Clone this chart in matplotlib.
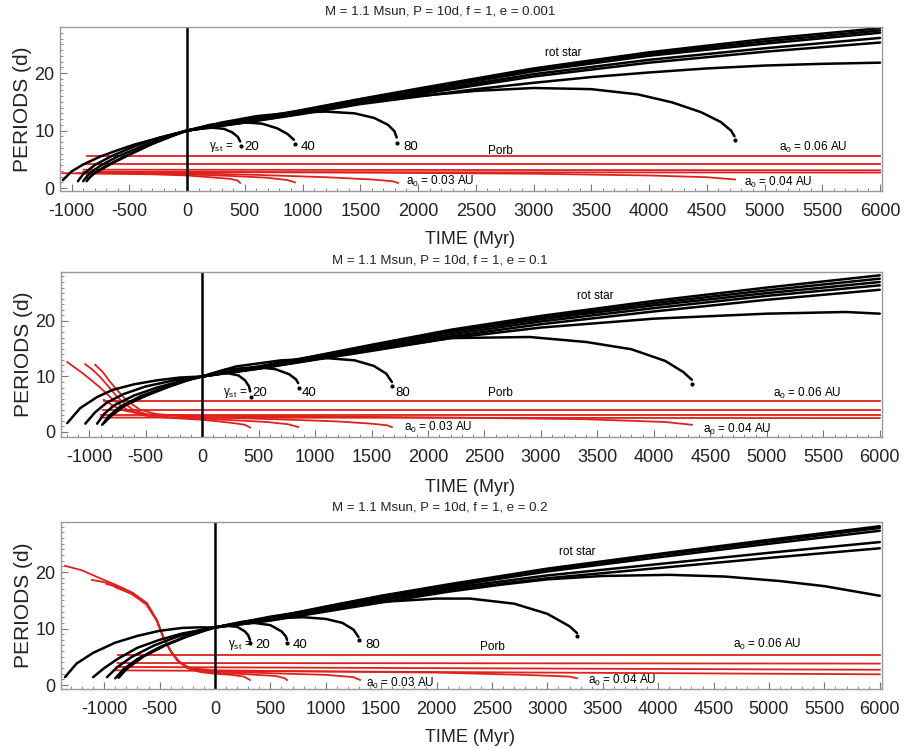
import numpy as np
import matplotlib
matplotlib.use("Agg")
import matplotlib.pyplot as plt

plt.rcParams["font.family"] = ["Liberation Sans", "DejaVu Sans"]
plt.rcParams["mathtext.default"] = "regular"
plt.rcParams["axes.unicode_minus"] = False

RED = "#e0201c"

TITLES = [
    "M = 1.1 Msun, P = 10d, f = 1, e = 0.001",
    "M = 1.1 Msun, P = 10d, f = 1, e = 0.1",
    "M = 1.1 Msun, P = 10d, f = 1, e = 0.2",
]
XTICKS = [-1000, -500, 0, 500, 1000, 1500, 2000, 2500, 3000, 3500, 4000, 4500, 5000, 5500, 6000]
YTICKS = [0, 10, 20]
GAMMA_LABELS = ["20", "40", "80"]

# ---------------- e = 0.001 ----------------
E001_PRE = [
    [(-1075, 1.4), (-1000, 2.9), (-900, 4.1), (-750, 5.5), (-600, 6.6), (-450, 7.6), (-250, 8.7), (0, 10.0)],
    [(-945, 1.2), (-900, 2.4), (-800, 4.0), (-650, 5.6), (-450, 7.3), (-250, 8.7), (0, 10.0)],
    [(-900, 1.2), (-850, 2.5), (-750, 3.9), (-600, 5.5), (-400, 7.2), (-200, 8.7), (0, 10.0)],
    [(-870, 1.2), (-820, 2.4), (-700, 3.9), (-550, 5.4), (-350, 7.3), (-150, 8.9), (0, 10.0)],
    [(-860, 1.6), (-800, 2.6), (-650, 4.3), (-500, 5.8), (-300, 7.7), (-100, 9.3), (0, 10.0)],
]
E001_LONG = [
    [(0, 10), (250, 10.9), (500, 11.8), (1000, 13.6), (1500, 15.5), (2000, 17.3), (3000, 20.8), (4000, 23.6), (5000, 25.9), (6000, 27.8)],
    [(0, 10), (250, 10.9), (500, 11.7), (1000, 13.5), (1500, 15.4), (2000, 17.1), (3000, 20.6), (4000, 23.3), (5000, 25.5), (6000, 27.4)],
    [(0, 10), (250, 10.8), (500, 11.6), (1000, 13.4), (1500, 15.2), (2000, 16.9), (3000, 20.3), (4000, 23.0), (5000, 25.1), (6000, 27.0)],
    [(0, 10), (250, 10.8), (500, 11.5), (1000, 13.2), (1500, 14.9), (2000, 16.6), (3000, 19.8), (4000, 22.3), (5000, 24.3), (6000, 26.1)],
    [(0, 10), (250, 10.7), (500, 11.4), (1000, 13.0), (1500, 14.7), (2000, 16.3), (3000, 19.4), (4000, 21.8), (5000, 23.7), (6000, 25.3)],
    [(0, 10), (250, 10.7), (500, 11.4), (1000, 12.9), (1500, 14.6), (2000, 15.9), (2500, 17.2), (3000, 18.3), (3500, 19.3),
     (4000, 20.1), (4500, 20.8), (5000, 21.3), (5500, 21.6), (6000, 21.8)],
]
E001_ENGULF = [
    [(0, 10), (100, 10.3), (220, 10.5), (320, 10.3), (390, 9.7), (440, 8.9), (460, 8.1)],
    [(0, 10), (200, 11.0), (450, 11.5), (650, 11.2), (780, 10.4), (870, 9.4), (925, 8.4)],
    [(0, 10), (300, 11.4), (600, 12.5), (900, 13.1), (1200, 13.3), (1450, 13.0), (1620, 12.2), (1740, 11.0), (1795, 9.9), (1815, 8.8)],
    [(0, 10), (500, 11.6), (1000, 13.3), (1500, 14.8), (2000, 16.0), (2500, 16.9), (3000, 17.4), (3500, 17.2), (3900, 16.3),
     (4200, 14.9), (4450, 13.2), (4620, 11.5), (4710, 10.0), (4740, 9.0)],
]
E001_DOTS = [(465, 7.4), (935, 7.6), (1820, 7.8), (4745, 8.4)]
E001_FLAT = [[(-865, 5.5), (6000, 5.5)], [(-880, 4.2), (6000, 4.2)], [(-895, 3.2), (6000, 3.1)], [(-900, 2.8), (6000, 2.7)]]
E001_DECAY = [
    [(-1080, 2.6), (-700, 2.5), (-300, 2.4), (0, 2.2), (200, 1.9), (380, 1.6), (440, 1.3), (460, 0.9)],
    [(-950, 2.6), (-500, 2.6), (0, 2.4), (400, 2.1), (700, 1.8), (870, 1.4), (935, 1.0)],
    [(-900, 2.7), (0, 2.6), (600, 2.3), (1200, 1.9), (1600, 1.5), (1780, 1.2), (1827, 0.9)],
    [(-870, 2.8), (0, 2.8), (1500, 2.7), (3000, 2.5), (4000, 2.2), (4500, 1.9), (4745, 1.5)],
]

# ---------------- e = 0.1 ----------------
E01_PRE = [
    [(-1195, 1.6), (-1080, 4.3), (-930, 6.3), (-790, 7.6), (-600, 8.6), (-400, 9.3), (-200, 9.8), (0, 10.0)],
    [(-1035, 1.5), (-950, 3.5), (-850, 5.2), (-700, 6.8), (-500, 8.2), (-250, 9.3), (0, 10.0)],
    [(-930, 1.5), (-870, 3.2), (-780, 4.8), (-600, 6.6), (-400, 8.0), (-200, 9.1), (0, 10.0)],
    [(-885, 1.3), (-830, 2.8), (-730, 4.5), (-550, 6.4), (-350, 7.9), (-150, 9.2), (0, 10.0)],
    [(-870, 1.6), (-800, 3.0), (-680, 4.8), (-500, 6.5), (-300, 8.1), (-100, 9.5), (0, 10.0)],
]
E01_LONG = [
    [(0, 10), (250, 10.9), (500, 11.8), (1000, 13.7), (1500, 15.7), (2200, 18.4), (3000, 20.9), (4000, 23.6), (5000, 26.0), (6000, 28.2)],
    [(0, 10), (250, 10.9), (500, 11.7), (1000, 13.6), (1500, 15.5), (2200, 18.2), (3000, 20.6), (4000, 23.2), (5000, 25.5), (6000, 27.6)],
    [(0, 10), (250, 10.8), (500, 11.6), (1000, 13.5), (1500, 15.3), (2200, 18.0), (3000, 20.3), (4000, 22.8), (5000, 25.0), (6000, 27.0)],
    [(0, 10), (250, 10.8), (500, 11.5), (1000, 13.3), (1500, 15.0), (2200, 17.6), (3000, 19.9), (4000, 22.3), (5000, 24.5), (6000, 26.4)],
    [(0, 10), (250, 10.7), (500, 11.4), (1000, 13.1), (1500, 14.8), (2200, 17.2), (3000, 19.4), (4000, 21.7), (5000, 23.8), (6000, 25.6)],
    [(0, 10), (250, 10.7), (500, 11.4), (1000, 13.0), (1500, 14.6), (2200, 16.9), (3000, 18.8), (4000, 20.4), (5000, 21.3),
     (5700, 21.6), (6000, 21.3)],
]
E01_ENGULF = [
    [(0, 10), (100, 10.4), (220, 10.6), (320, 10.2), (380, 9.3), (415, 8.2), (425, 7.3)],
    [(0, 10), (200, 11.2), (480, 11.7), (650, 11.3), (770, 10.4), (830, 9.5), (850, 8.8)],
    [(0, 10), (300, 11.8), (700, 12.9), (1100, 13.3), (1350, 12.9), (1520, 11.9), (1630, 10.5), (1680, 9.0)],
    [(0, 10), (500, 11.6), (1000, 13.3), (1500, 14.8), (2200, 16.9), (2900, 17.1), (3400, 16.2), (3800, 14.9),
     (4100, 12.8), (4260, 10.8), (4336, 9.4)],
]
E01_DOTS = [(430, 6.3), (855, 7.9), (1685, 8.2), (4340, 8.7)]
E01_FLAT = [[(-870, 5.5), (6000, 5.5)], [(-880, 4.0), (6000, 4.0)], [(-895, 3.1), (6000, 3.1)], [(-900, 2.6), (6000, 2.5)]]
E01_DECAY = [
    [(-1195, 12.6), (-1120, 11.5), (-1053, 10.5), (-980, 9.3), (-903, 8.0), (-840, 6.8), (-788, 5.8), (-720, 4.8),
     (-664, 4.0), (-560, 3.2), (-460, 2.8), (-250, 2.5), (0, 2.2), (150, 1.9), (280, 1.6), (380, 1.3), (425, 0.8)],
    [(-1035, 12.2), (-970, 11.2), (-903, 9.9), (-830, 8.2), (-752, 6.3), (-680, 5.0), (-610, 4.0), (-480, 3.1),
     (-310, 2.7), (0, 2.4), (300, 2.1), (575, 1.8), (760, 1.4), (850, 0.9)],
    [(-947, 12.1), (-880, 10.8), (-814, 9.0), (-750, 7.5), (-699, 6.3), (-620, 5.0), (-549, 4.0), (-400, 3.2),
     (-168, 2.8), (300, 2.5), (800, 2.2), (1200, 1.9), (1500, 1.5), (1640, 1.2), (1680, 0.9)],
    [(-870, 5.8), (-780, 4.6), (-680, 3.8), (-500, 3.2), (0, 2.9), (1000, 2.8), (2200, 2.6), (3400, 2.3), (4100, 1.8), (4336, 1.3)],
]

# ---------------- e = 0.2 ----------------
E02_PRE = [
    [(-1354, 1.4), (-1250, 3.8), (-1100, 5.7), (-900, 7.5), (-700, 8.7), (-500, 9.6), (-300, 10.1), (-150, 10.2), (0, 10.2)],
    [(-1100, 1.4), (-1000, 3.0), (-880, 4.6), (-700, 6.6), (-500, 8.0), (-300, 9.1), (0, 10.2)],
    [(-975, 1.4), (-880, 3.2), (-750, 5.0), (-550, 7.0), (-350, 8.5), (-150, 9.6), (0, 10.2)],
    [(-900, 1.2), (-820, 2.9), (-700, 4.6), (-500, 6.7), (-300, 8.3), (-100, 9.6), (0, 10.2)],
    [(-870, 1.3), (-800, 2.8), (-650, 5.0), (-450, 7.0), (-250, 8.6), (-100, 9.6), (0, 10.2)],
]
E02_LONG = [
    [(0, 10.2), (250, 11.0), (500, 11.9), (1000, 13.9), (1500, 15.8), (2100, 17.8), (3000, 20.6), (4000, 23.2), (5000, 25.7), (6000, 28.1)],
    [(0, 10.2), (250, 11.0), (500, 11.8), (1000, 13.8), (1500, 15.7), (2100, 17.6), (3000, 20.4), (4000, 23.0), (5000, 25.4), (6000, 27.8)],
    [(0, 10.2), (250, 10.9), (500, 11.7), (1000, 13.7), (1500, 15.5), (2100, 17.4), (3000, 20.1), (4000, 22.6), (5000, 25.0), (6000, 27.3)],
    [(0, 10.2), (250, 10.9), (500, 11.6), (1000, 13.5), (1500, 15.3), (2100, 17.1), (3000, 19.4), (4000, 21.4), (5000, 23.4), (6000, 25.3)],
    [(0, 10.2), (250, 10.8), (500, 11.5), (1000, 13.3), (1500, 15.0), (2100, 16.8), (3000, 18.9), (4000, 20.7), (5000, 22.5), (6000, 24.2)],
    [(0, 10.2), (250, 10.8), (500, 11.4), (1000, 13.0), (1500, 14.6), (2100, 16.5), (2600, 17.8), (3000, 18.7), (3500, 19.3),
     (4100, 19.5), (4600, 19.2), (5100, 18.4), (5500, 17.5), (6000, 15.8)],
]
E02_ENGULF = [
    [(0, 10.2), (100, 10.5), (200, 10.3), (270, 9.5), (300, 8.8), (316, 8.0)],
    [(0, 10.2), (150, 10.7), (350, 11.0), (500, 10.6), (600, 9.5), (640, 8.6), (650, 8.0)],
    [(0, 10.2), (250, 11.2), (500, 11.8), (800, 12.0), (1000, 11.7), (1150, 11.0), (1250, 9.8), (1295, 8.5)],
    [(0, 10.2), (500, 12.1), (1000, 13.6), (1500, 14.7), (2000, 15.3), (2300, 15.3), (2700, 14.4), (3000, 12.6), (3200, 10.4), (3267, 9.2)],
]
E02_DOTS = [(318, 7.4), (652, 7.5), (1298, 7.9), (3270, 8.6)]
E02_FLAT = [[(-875, 5.3), (6000, 5.3)], [(-880, 3.9), (6000, 3.8)], [(-890, 3.2), (6000, 2.7)], [(-900, 2.6), (6000, 1.9)]]
E02_DECAY = [
    [(-1354, 21.1), (-1200, 20.3), (-1038, 18.9), (-880, 17.6), (-740, 16.3), (-614, 14.5), (-523, 11.5), (-469, 8.5),
     (-406, 6.2), (-343, 4.4), (-253, 3.0), (-135, 2.3), (0, 2.0), (150, 1.8), (260, 1.5), (316, 0.9)],
    [(-1110, 18.6), (-1000, 18.2), (-880, 17.4), (-740, 16.1), (-620, 14.3), (-530, 11.6), (-470, 8.6), (-400, 6.0),
     (-330, 4.2), (-240, 3.0), (-100, 2.4), (0, 2.2), (300, 1.9), (550, 1.6), (630, 1.2), (650, 0.9)],
    [(-980, 17.9), (-860, 17.2), (-740, 16.0), (-615, 14.2), (-525, 11.4), (-465, 8.4), (-395, 5.8), (-320, 4.0),
     (-220, 2.9), (0, 2.4), (500, 2.1), (1000, 1.8), (1250, 1.4), (1309, 0.9)],
    [(-900, 17.3), (-760, 16.2), (-620, 14.4), (-528, 11.5), (-466, 8.5), (-398, 6.0), (-325, 4.2), (-230, 3.0),
     (0, 2.6), (1000, 2.4), (2000, 2.2), (2800, 1.8), (3200, 1.5), (3267, 1.2)],
]

PANELS = [
    dict(pre=E001_PRE, long=E001_LONG, engulf=E001_ENGULF, dots=E001_DOTS, flat=E001_FLAT, decay=E001_DECAY),
    dict(pre=E01_PRE, long=E01_LONG, engulf=E01_ENGULF, dots=E01_DOTS, flat=E01_FLAT, decay=E01_DECAY),
    dict(pre=E02_PRE, long=E02_LONG, engulf=E02_ENGULF, dots=E02_DOTS, flat=E02_FLAT, decay=E02_DECAY),
]

# layout in pixels: (left, right, top, bottom), x limits, y limits
W, H = 906, 748
BOXES = [(60, 882, 27, 191), (61, 882, 272, 437), (61, 882, 522, 689)]
XLIMS = [(-1100, 6017), (-1250, 6020), (-1390, 6020)]
YLIMS = [(-0.5, 28.0), (-0.9, 28.8), (-0.7, 28.85)]
TITLE_Y = [12, 260, 507]
XLABEL_Y = [239, 487, 737]

# annotation positions (data coords)
LABELS = [
    dict(rot=(3255, 23.5), porb=(2710, 6.4), a06=(5420, 7.1), a04=(5117, 0.9), a03=(2190, 1.2),
         gam=(400, 7.2), nums=[500, 985, 1870], ny=7.2),
    dict(rot=(3478, 24.5), porb=(2637, 7.0), a06=(5354, 7.0), a04=(4735, 0.4), a03=(2090, 0.9),
         gam=(398, 7.0), nums=[442, 885, 1708], ny=7.0),
    dict(rot=(3267, 23.5), porb=(2500, 6.7), a06=(4982, 7.1), a04=(3673, 0.9), a03=(1670, 0.35),
         gam=(334, 7.1), nums=[361, 704, 1354], ny=7.1),
]

fig = plt.figure(figsize=(W / 100, H / 100), dpi=100)

for i, d in enumerate(PANELS):
    l, r, t, b = BOXES[i]
    ax = fig.add_axes([l / W, 1 - b / H, (r - l) / W, (b - t) / H])

    for c in d["flat"]:
        a = np.array(c)
        ax.plot(a[:, 0], a[:, 1], color=RED, lw=1.3)
    for c in d["decay"]:
        a = np.array(c)
        ax.plot(a[:, 0], a[:, 1], color=RED, lw=1.3)
    for group in ("pre", "long", "engulf"):
        for c in d[group]:
            a = np.array(c)
            ax.plot(a[:, 0], a[:, 1], color="black", lw=1.8, solid_capstyle="round")
    dots = np.array(d["dots"])
    ax.plot(dots[:, 0], dots[:, 1], "o", color="black", ms=2)

    ax.axvline(0, color="black", lw=1.8)

    ax.set_xticks(XTICKS)
    ax.set_xticks(np.arange(-1300, 6001, 100), minor=True)
    ax.set_yticks(YTICKS)
    ax.set_yticks(np.arange(0, 29, 1), minor=True)
    ax.set_xlim(*XLIMS[i])
    ax.set_ylim(*YLIMS[i])
    ax.tick_params(which="both", direction="in", colors="#777777", labelcolor="#222222", labelsize=13)
    ax.tick_params(axis="x", which="major", length=5, pad=9)
    ax.tick_params(axis="y", which="major", length=5, pad=4)
    ax.tick_params(which="minor", length=2.5)
    for s in ax.spines.values():
        s.set_color("#999999")
        s.set_linewidth(1.0)
    ax.set_ylabel("PERIODS (d)", fontsize=15, color="#222222", labelpad=2)

    lab = LABELS[i]
    fs = 8.5
    ax.text(*lab["rot"], "rot star", fontsize=fs, ha="center", va="center")
    ax.text(*lab["porb"], "Porb", fontsize=fs, ha="center", va="center")
    ax.text(*lab["a06"], "a$_0$ = 0.06 AU", fontsize=fs, ha="center", va="center")
    ax.text(*lab["a04"], "a$_0$ = 0.04 AU", fontsize=fs, ha="center", va="center")
    ax.text(*lab["a03"], "a$_0$ = 0.03 AU", fontsize=fs, ha="center", va="center")
    ax.text(*lab["gam"], r"$\gamma_{st}$ =", fontsize=fs, ha="right", va="center")
    for x, s in zip(lab["nums"], GAMMA_LABELS):
        ax.text(x, lab["ny"], s, fontsize=fs + 1, ha="left", va="center")

    fig.text(440 / W, 1 - TITLE_Y[i] / H, TITLES[i], fontsize=9.5, ha="center", va="center", color="#222222")
    fig.text(470 / W, 1 - XLABEL_Y[i] / H, "TIME (Myr)", fontsize=13, ha="center", va="center", color="#222222")

fig.savefig("out.png", dpi=100)
